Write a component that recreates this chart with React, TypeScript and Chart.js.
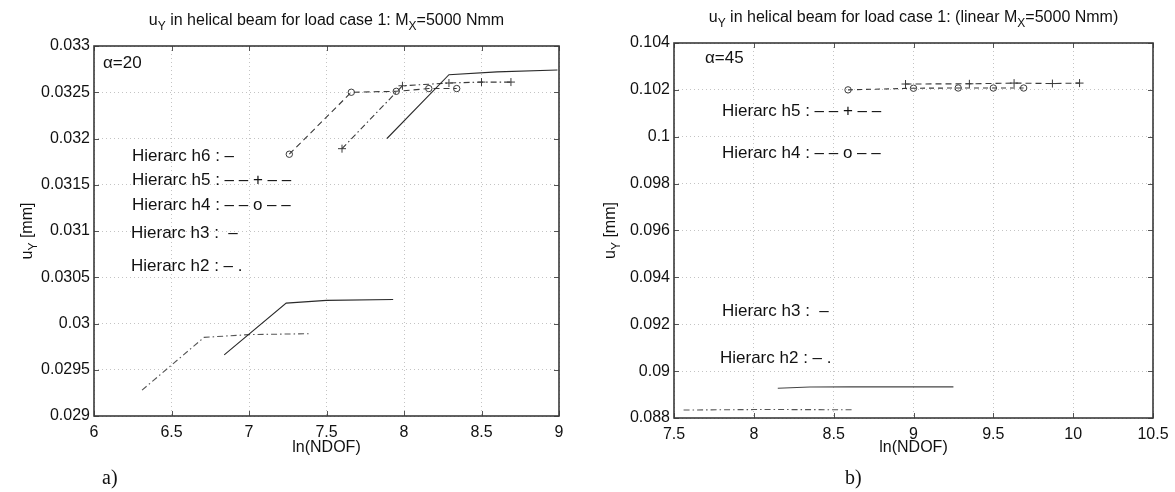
import React, { useEffect, useRef } from "react";
import { Chart, registerables } from "chart.js";

Chart.register(...registerables);

// ---------- panel a) : alpha = 20 ----------
const A_X_TICKS = [6, 6.5, 7, 7.5, 8, 8.5, 9];
const A_X_LABELS = ["6", "6.5", "7", "7.5", "8", "8.5", "9"];
const A_Y_TICKS = [0.029, 0.0295, 0.03, 0.0305, 0.031, 0.0315, 0.032, 0.0325, 0.033];
const A_Y_LABELS = ["0.029", "0.0295", "0.03", "0.0305", "0.031", "0.0315", "0.032", "0.0325", "0.033"];

const A_H6_X = [7.89, 8.29, 8.6, 8.99];
const A_H6_Y = [0.032, 0.03269, 0.03272, 0.03274];
const A_H5_X = [7.6, 7.99, 8.29, 8.5, 8.69];
const A_H5_Y = [0.03189, 0.03257, 0.0326, 0.03261, 0.03261];
const A_H4_X = [7.26, 7.66, 7.95, 8.16, 8.34];
const A_H4_Y = [0.03183, 0.0325, 0.03251, 0.03254, 0.03254];
const A_H3_X = [6.84, 7.24, 7.5, 7.93];
const A_H3_Y = [0.02966, 0.03022, 0.03025, 0.03026];
const A_H2_X = [6.31, 6.71, 7.0, 7.4];
const A_H2_Y = [0.02928, 0.02985, 0.02988, 0.02989];

const A_LEGEND = [
  "Hierarc h6 : \u2013",
  "Hierarc h5 : \u2013 \u2013 + \u2013 \u2013",
  "Hierarc h4 : \u2013 \u2013 o \u2013 \u2013",
  "Hierarc h3 :  \u2013",
  "Hierarc h2 : \u2013 .",
];
const A_NOTE = "\u03b1=20";
const A_LETTER = "a)";

// ---------- panel b) : alpha = 45 ----------
const B_X_TICKS = [7.5, 8, 8.5, 9, 9.5, 10, 10.5];
const B_X_LABELS = ["7.5", "8", "8.5", "9", "9.5", "10", "10.5"];
const B_Y_TICKS = [0.088, 0.09, 0.092, 0.094, 0.096, 0.098, 0.1, 0.102, 0.104];
const B_Y_LABELS = ["0.088", "0.09", "0.092", "0.094", "0.096", "0.098", "0.1", "0.102", "0.104"];

const B_H5_X = [8.95, 9.35, 9.63, 9.87, 10.04];
const B_H5_Y = [0.10225, 0.10226, 0.10229, 0.10227, 0.10229];
const B_H4_X = [8.59, 9.0, 9.28, 9.5, 9.69];
const B_H4_Y = [0.102, 0.10207, 0.10208, 0.10208, 0.10208];
const B_H3_X = [8.15, 8.35, 8.6, 9.25];
const B_H3_Y = [0.08927, 0.08932, 0.08933, 0.08933];
const B_H2_X = [7.56, 8.0, 8.2, 8.63];
const B_H2_Y = [0.08834, 0.08836, 0.08836, 0.08835];

const B_LEGEND = [
  "Hierarc h5 : \u2013 \u2013 + \u2013 \u2013",
  "Hierarc h4 : \u2013 \u2013 o \u2013 \u2013",
  "Hierarc h3 :  \u2013",
  "Hierarc h2 : \u2013 .",
];
const B_NOTE = "\u03b1=45";
const B_LETTER = "b)";

const X_TITLE = "ln(NDOF)";

type Part = { text: string; sub?: boolean };

const A_TITLE: Part[] = [
  { text: "u" },
  { text: "Y", sub: true },
  { text: " in helical beam for load case 1: M" },
  { text: "X", sub: true },
  { text: "=5000 Nmm" },
];
const B_TITLE: Part[] = [
  { text: "u" },
  { text: "Y", sub: true },
  { text: " in helical beam for load case 1: (linear M" },
  { text: "X", sub: true },
  { text: "=5000 Nmm)" },
];
const Y_TITLE: Part[] = [{ text: "u" }, { text: "Y", sub: true }, { text: " [mm]" }];

// ---------- drawing setup ----------
const PAGE_W = 1175;
const PAGE_H = 492;
const SANS = "'Liberation Sans', Arial, Helvetica, sans-serif";
const SERIF = "'Liberation Serif', 'Times New Roman', serif";

type Series = {
  xs: number[];
  ys: number[];
  dash: number[];
  color: string;
  marker?: "circle" | "cross";
};

type Panel = {
  offset: number;
  width: number;
  plot: { l: number; r: number; t: number; b: number };
  xMin: number;
  xMax: number;
  yMin: number;
  yMax: number;
  xTicks: number[];
  xLabels: string[];
  yTicks: number[];
  yLabels: string[];
  series: Series[];
  title: Part[];
  titleY: number;
  yTitleX: number;
  legend: string[];
  legendX: number[];
  legendY: number[];
  note: string;
  noteX: number;
  noteY: number;
  letter: string;
  letterX: number;
};

const PANELS: Panel[] = [
  {
    offset: 0,
    width: 587,
    plot: { l: 94, r: 559, t: 46, b: 416 },
    xMin: 6,
    xMax: 9,
    yMin: 0.029,
    yMax: 0.033,
    xTicks: A_X_TICKS,
    xLabels: A_X_LABELS,
    yTicks: A_Y_TICKS,
    yLabels: A_Y_LABELS,
    series: [
      { xs: A_H6_X, ys: A_H6_Y, dash: [], color: "#2a2a2a" },
      { xs: A_H5_X, ys: A_H5_Y, dash: [6, 3, 1.5, 3], color: "#3a3a3a", marker: "cross" },
      { xs: A_H4_X, ys: A_H4_Y, dash: [6, 4], color: "#3a3a3a", marker: "circle" },
      { xs: A_H3_X, ys: A_H3_Y, dash: [], color: "#2a2a2a" },
      { xs: A_H2_X, ys: A_H2_Y, dash: [6, 3, 1.5, 3], color: "#555555" },
    ],
    title: A_TITLE,
    titleY: 25,
    yTitleX: 27,
    legend: A_LEGEND,
    legendX: [132, 132, 132, 131, 131],
    legendY: [161, 185, 210, 238, 271],
    note: A_NOTE,
    noteX: 103,
    noteY: 68,
    letter: A_LETTER,
    letterX: 102,
  },
  {
    offset: 587,
    width: 588,
    plot: { l: 674, r: 1153, t: 43, b: 418 },
    xMin: 7.5,
    xMax: 10.5,
    yMin: 0.088,
    yMax: 0.104,
    xTicks: B_X_TICKS,
    xLabels: B_X_LABELS,
    yTicks: B_Y_TICKS,
    yLabels: B_Y_LABELS,
    series: [
      { xs: B_H5_X, ys: B_H5_Y, dash: [6, 4], color: "#3a3a3a", marker: "cross" },
      { xs: B_H4_X, ys: B_H4_Y, dash: [5, 4], color: "#3a3a3a", marker: "circle" },
      { xs: B_H3_X, ys: B_H3_Y, dash: [], color: "#444444" },
      { xs: B_H2_X, ys: B_H2_Y, dash: [6, 3, 1.5, 3], color: "#555555" },
    ],
    title: B_TITLE,
    titleY: 22,
    yTitleX: 610,
    legend: B_LEGEND,
    legendX: [722, 722, 722, 720],
    legendY: [116, 158, 316, 363],
    note: B_NOTE,
    noteX: 705,
    noteY: 63,
    letter: B_LETTER,
    letterX: 845,
  },
];

// Draws a run of normal and subscript text pieces.
function drawParts(
  ctx: CanvasRenderingContext2D,
  parts: Part[],
  x: number,
  y: number,
  size: number,
  align: "left" | "center"
) {
  const subSize = Math.round(size * 0.72);
  const fontFor = (p: Part) => `${p.sub ? subSize : size}px ${SANS}`;
  let total = 0;
  for (const p of parts) {
    ctx.font = fontFor(p);
    total += ctx.measureText(p.text).width;
  }
  let cx = align === "center" ? x - total / 2 : x;
  ctx.textAlign = "left";
  ctx.textBaseline = "alphabetic";
  for (const p of parts) {
    ctx.font = fontFor(p);
    ctx.fillText(p.text, cx, p.sub ? y + size * 0.32 : y);
    cx += ctx.measureText(p.text).width;
  }
}

function makeDecor(p: Panel) {
  return {
    id: "panelDecor",
    afterDraw(chart: any) {
      const ctx: CanvasRenderingContext2D = chart.ctx;
      const { left, right, top, bottom } = chart.chartArea;
      const xs = chart.scales.x;
      const ys = chart.scales.y;
      const o = p.offset;
      ctx.save();

      // inward tick marks on all four sides
      ctx.strokeStyle = "#555555";
      ctx.lineWidth = 1;
      ctx.setLineDash([]);
      ctx.beginPath();
      for (const v of p.xTicks) {
        const px = Math.round(xs.getPixelForValue(v)) + 0.5;
        ctx.moveTo(px, bottom);
        ctx.lineTo(px, bottom - 5);
        ctx.moveTo(px, top);
        ctx.lineTo(px, top + 5);
      }
      for (const v of p.yTicks) {
        const py = Math.round(ys.getPixelForValue(v)) + 0.5;
        ctx.moveTo(left, py);
        ctx.lineTo(left + 5, py);
        ctx.moveTo(right, py);
        ctx.lineTo(right - 5, py);
      }
      ctx.stroke();

      // axes box
      ctx.strokeStyle = "#3a3a3a";
      ctx.lineWidth = 1.6;
      ctx.strokeRect(left, top, right - left, bottom - top);

      ctx.fillStyle = "#111111";

      // title
      drawParts(ctx, p.title, (left + right) / 2, p.titleY, 16, "center");

      // x axis title
      ctx.font = `16px ${SANS}`;
      ctx.textAlign = "center";
      ctx.textBaseline = "alphabetic";
      ctx.fillText(X_TITLE, (left + right) / 2, 452);

      // y axis title, rotated
      ctx.save();
      ctx.translate(p.yTitleX - o, (top + bottom) / 2);
      ctx.rotate(-Math.PI / 2);
      drawParts(ctx, Y_TITLE, 0, 5, 16, "center");
      ctx.restore();

      // angle note
      ctx.font = `17px ${SANS}`;
      ctx.textAlign = "left";
      ctx.textBaseline = "alphabetic";
      ctx.fillText(p.note, p.noteX - o, p.noteY);

      // line-style key
      p.legend.forEach((t, i) => {
        ctx.fillText(t, p.legendX[i] - o, p.legendY[i]);
      });

      // panel letter
      ctx.font = `20px ${SERIF}`;
      ctx.fillText(p.letter, p.letterX - o, 484);

      ctx.restore();
    },
  };
}

function PanelChart({ p }: { p: Panel }) {
  const ref = useRef<HTMLCanvasElement | null>(null);

  useEffect(() => {
    const canvas = ref.current;
    if (!canvas) return;

    const datasets = p.series.map((s) => ({
      data: s.xs.map((x, i) => ({ x, y: s.ys[i] })),
      borderColor: s.color,
      borderWidth: 1.1,
      borderDash: s.dash,
      fill: false,
      tension: 0,
      pointRadius: s.marker ? (s.marker === "circle" ? 3.2 : 4) : 0,
      pointStyle: s.marker === "cross" ? "cross" : "circle",
      pointBorderColor: s.color,
      pointBorderWidth: 1,
      pointBackgroundColor: "rgba(0,0,0,0)",
    }));

    const gridCommon = {
      color: "#c4c4c4",
      lineWidth: 1,
      drawTicks: false,
    };

    const chart = new Chart(canvas, {
      type: "line",
      data: { datasets },
      options: {
        animation: false,
        responsive: false,
        maintainAspectRatio: false,
        layout: {
          padding: {
            left: 0,
            top: p.plot.t,
            right: p.offset + p.width - p.plot.r,
            bottom: 0,
          },
        },
        plugins: {
          legend: { display: false },
          title: { display: false },
          tooltip: { enabled: false },
        },
        scales: {
          x: {
            type: "linear",
            min: p.xMin,
            max: p.xMax,
            grid: gridCommon,
            border: { display: false, dash: [1, 3] },
            afterBuildTicks: (scale: any) => {
              scale.ticks = p.xTicks.map((v) => ({ value: v }));
            },
            afterFit: (scale: any) => {
              scale.height = PAGE_H - p.plot.b;
              scale.paddingLeft = 0;
              scale.paddingRight = 0;
            },
            ticks: {
              autoSkip: false,
              maxRotation: 0,
              padding: 7,
              color: "#111111",
              font: { family: SANS, size: 16 },
              callback: (_v: any, i: number) => p.xLabels[i],
            },
          },
          y: {
            type: "linear",
            min: p.yMin,
            max: p.yMax,
            grid: gridCommon,
            border: { display: false, dash: [1, 3] },
            afterBuildTicks: (scale: any) => {
              scale.ticks = p.yTicks.map((v) => ({ value: v }));
            },
            afterFit: (scale: any) => {
              scale.width = p.plot.l - p.offset;
              scale.paddingTop = 0;
              scale.paddingBottom = 0;
            },
            ticks: {
              autoSkip: false,
              padding: 4,
              color: "#111111",
              font: { family: SANS, size: 16 },
              callback: (_v: any, i: number) => p.yLabels[i],
            },
          },
        },
      },
      plugins: [makeDecor(p)],
    } as any);

    return () => chart.destroy();
  }, [p]);

  return (
    <canvas
      ref={ref}
      width={p.width}
      height={PAGE_H}
      style={{
        position: "absolute",
        left: p.offset,
        top: 0,
        width: p.width,
        height: PAGE_H,
      }}
    />
  );
}

export default function App() {
  return (
    <div
      style={{
        position: "fixed",
        left: 0,
        top: 0,
        width: PAGE_W,
        height: PAGE_H,
        background: "#ffffff",
        overflow: "hidden",
      }}
    >
      {PANELS.map((p) => (
        <PanelChart key={p.offset} p={p} />
      ))}
    </div>
  );
}
